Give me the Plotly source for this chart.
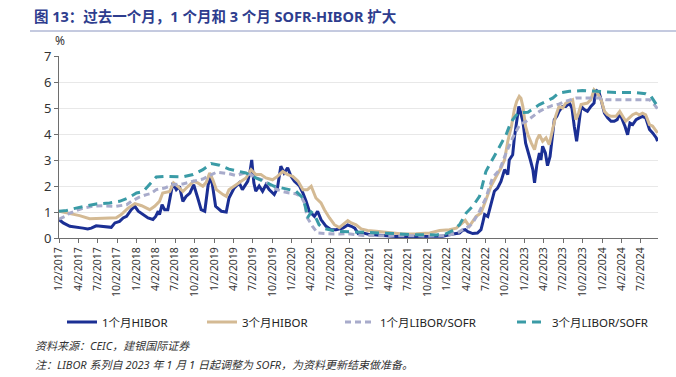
import plotly.graph_objects as go

# ---------------- data ----------------
hibor1m_dates = ["2017-01-02","2017-01-22","2017-02-22","2017-04-02","2017-04-25","2017-05-17","2017-06-03","2017-06-26",
    "2017-07-28","2017-09-05","2017-09-22","2017-10-14","2017-10-31","2017-11-16","2017-12-08","2017-12-25",
    "2018-01-10","2018-02-02","2018-02-25","2018-03-20","2018-04-02","2018-04-14","2018-04-20","2018-05-02",
    "2018-05-14","2018-05-29","2018-06-22","2018-07-08","2018-07-23","2018-08-08","2018-08-23","2018-09-10",
    "2018-09-28","2018-10-17","2018-11-02","2018-11-19","2018-12-05","2018-12-19","2019-01-09","2019-02-05",
    "2019-02-28","2019-03-13","2019-04-06","2019-04-30","2019-05-15","2019-06-09","2019-06-19","2019-06-28",
    "2019-07-08","2019-07-17","2019-08-02","2019-08-18","2019-09-03","2019-09-18","2019-10-12","2019-10-27",
    "2019-11-12","2019-11-27","2019-12-14","2019-12-30","2020-01-15","2020-02-08","2020-02-24","2020-03-10",
    "2020-03-25","2020-04-18","2020-05-03","2020-05-19","2020-06-12","2020-07-05","2020-07-28","2020-08-30",
    "2020-09-22","2020-10-09","2020-10-25","2020-11-10","2020-12-03","2021-01-04","2021-02-19","2021-05-07",
    "2021-07-25","2021-10-13","2021-12-13","2022-01-30","2022-03-02","2022-03-17","2022-03-29","2022-04-10",
    "2022-05-03","2022-05-25","2022-06-11","2022-06-19","2022-06-28","2022-07-13","2022-07-28","2022-08-13",
    "2022-08-28","2022-09-13","2022-09-30","2022-10-15","2022-10-22","2022-11-07","2022-11-15","2022-11-26",
    "2022-12-06","2022-12-13","2022-12-25","2023-01-07","2023-01-18","2023-01-29","2023-02-10","2023-02-18",
    "2023-03-01","2023-03-13","2023-03-20","2023-03-28","2023-04-10","2023-04-20","2023-05-02","2023-05-14",
    "2023-05-22","2023-06-03","2023-06-13","2023-06-30","2023-07-15","2023-08-01","2023-08-13","2023-08-24",
    "2023-09-04","2023-09-13","2023-09-25","2023-10-10","2023-10-25","2023-11-10","2023-11-25","2023-12-03",
    "2023-12-19","2023-12-28","2024-01-13","2024-01-28","2024-02-13","2024-02-28","2024-03-13","2024-03-25",
    "2024-04-07","2024-04-19","2024-05-01","2024-05-12","2024-05-25","2024-06-10","2024-06-25","2024-07-10",
    "2024-07-25","2024-08-12","2024-08-27","2024-09-13","2024-09-19"]
hibor1m_values = [0.71,0.58,0.45,0.42,0.38,0.35,0.38,0.47,
    0.45,0.41,0.58,0.64,0.77,0.83,1.09,1.22,
    1.03,0.90,0.77,0.71,0.83,1.03,0.90,1.28,
    1.09,1.09,2.12,1.86,1.99,1.41,1.60,1.73,
    2.05,1.54,1.09,1.03,2.05,2.37,1.22,1.03,
    1.00,1.54,1.92,2.12,1.86,2.18,2.50,3.00,
    2.12,1.80,2.00,1.80,2.05,1.86,1.67,1.92,
    2.76,2.50,2.70,2.37,2.18,2.00,1.73,1.41,
    1.03,0.83,1.03,0.71,0.45,0.32,0.32,0.38,
    0.50,0.45,0.38,0.17,0.19,0.13,0.10,0.06,
    0.06,0.06,0.07,0.15,0.19,0.30,0.32,0.24,
    0.17,0.19,0.32,0.58,0.90,0.83,1.28,1.80,
    1.92,2.18,2.63,2.44,3.00,3.20,3.85,4.55,
    5.06,4.87,4.49,3.65,3.27,3.01,2.63,2.12,
    2.82,3.27,3.00,3.53,3.27,2.78,3.14,3.97,
    4.55,4.68,4.87,5.06,5.06,5.19,5.00,4.29,
    3.72,4.29,5.06,4.94,4.87,5.06,5.19,5.70,
    5.58,5.32,4.80,4.62,4.49,4.49,4.55,4.80,
    4.55,4.29,3.97,4.42,4.36,4.55,4.62,4.68,
    4.62,4.17,4.04,3.85,3.72]

hibor3m_dates = ["2017-01-02","2017-02-22","2017-04-09","2017-05-26","2017-07-27","2017-09-28","2017-10-22","2017-11-23",
    "2017-12-25","2018-01-26","2018-03-05","2018-03-28","2018-04-20","2018-05-05","2018-06-07","2018-06-25",
    "2018-07-15","2018-08-08","2018-09-02","2018-09-28","2018-10-17","2018-11-10","2018-11-26","2018-12-12",
    "2018-12-27","2019-01-13","2019-02-13","2019-02-28","2019-03-13","2019-04-06","2019-04-30","2019-06-01",
    "2019-06-25","2019-07-17","2019-08-10","2019-09-03","2019-10-04","2019-10-27","2019-11-21","2019-12-14",
    "2020-01-07","2020-02-01","2020-02-24","2020-03-16","2020-04-03","2020-04-25","2020-05-19","2020-06-04",
    "2020-06-28","2020-07-21","2020-08-13","2020-09-22","2020-10-09","2020-10-31","2020-11-24","2020-12-24",
    "2021-02-03","2021-04-07","2021-06-07","2021-08-10","2021-10-13","2021-11-28","2022-01-13","2022-02-15",
    "2022-03-17","2022-03-29","2022-04-17","2022-05-03","2022-05-19","2022-06-11","2022-06-28","2022-07-13",
    "2022-07-28","2022-08-22","2022-09-13","2022-09-30","2022-10-15","2022-11-01","2022-11-15","2022-11-26",
    "2022-12-08","2022-12-16","2022-12-25","2023-01-07","2023-01-18","2023-02-03","2023-02-18","2023-03-01",
    "2023-03-13","2023-03-28","2023-04-13","2023-04-28","2023-05-14","2023-05-28","2023-06-13","2023-06-30",
    "2023-07-15","2023-08-01","2023-08-16","2023-09-01","2023-09-13","2023-09-25","2023-10-25","2023-11-10",
    "2023-11-25","2023-12-11","2023-12-28","2024-01-13","2024-01-28","2024-02-13","2024-03-07","2024-03-25",
    "2024-04-07","2024-04-22","2024-05-09","2024-05-25","2024-06-10","2024-06-25","2024-07-10","2024-07-25",
    "2024-08-12","2024-08-27","2024-09-19"]
hibor3m_values = [1.03,0.94,0.86,0.74,0.75,0.78,0.90,1.15,
    1.32,1.24,1.09,1.22,1.41,1.73,1.79,2.12,
    1.99,1.79,1.99,2.18,2.12,1.99,2.14,2.50,
    2.24,1.86,1.67,1.60,1.86,1.99,2.12,2.31,
    2.63,2.44,2.44,2.31,2.24,2.37,2.56,2.44,
    2.37,2.18,1.86,1.86,1.99,1.54,1.35,1.09,
    0.77,0.51,0.40,0.67,0.58,0.51,0.35,0.29,
    0.26,0.19,0.15,0.16,0.19,0.29,0.32,0.38,
    0.58,0.68,0.45,0.64,0.83,0.96,1.35,1.67,
    1.99,2.37,2.69,3.01,3.72,4.29,4.94,5.26,
    5.45,5.38,5.06,4.29,3.97,3.65,3.40,3.78,
    3.97,3.72,3.85,3.59,4.17,4.68,5.06,5.00,
    5.19,5.26,5.32,4.55,4.80,5.13,5.19,5.32,
    5.70,5.58,5.32,4.87,4.74,4.68,4.68,4.87,
    4.68,4.49,4.62,4.74,4.80,4.74,4.80,4.74,
    4.36,4.30,4.04]

libor1m_dates = ["2017-01-02","2017-01-30","2017-02-22","2017-04-02","2017-04-25","2017-06-11","2017-07-28","2017-09-28",
    "2017-11-16","2017-12-08","2018-01-17","2018-02-18","2018-03-10","2018-04-05","2018-05-14","2018-06-22",
    "2018-08-08","2018-09-25","2018-11-10","2018-12-12","2019-01-13","2019-02-13","2019-03-13","2019-04-16",
    "2019-05-24","2019-06-25","2019-07-17","2019-08-18","2019-09-18","2019-10-20","2019-11-21","2019-12-22",
    "2020-01-22","2020-02-15","2020-03-02","2020-03-10","2020-03-16","2020-04-09","2020-05-03","2020-06-12",
    "2020-08-13","2020-09-15","2020-12-03","2021-02-19","2021-05-07","2021-10-13","2021-12-28","2022-02-15",
    "2022-03-17","2022-04-17","2022-05-03","2022-06-04","2022-07-04","2022-08-04","2022-09-07","2022-10-07",
    "2022-11-07","2022-12-10","2023-01-10","2023-02-10","2023-03-13","2023-04-13","2023-05-14","2023-06-12",
    "2023-07-15","2023-09-01","2023-12-19","2024-01-20","2024-06-25","2024-08-12","2024-09-04","2024-09-19"]
libor1m_values = [0.73,0.83,0.96,1.09,1.15,1.22,1.24,1.22,
    1.28,1.41,1.58,1.67,1.71,1.86,1.92,2.05,
    2.08,2.18,2.27,2.40,2.53,2.50,2.47,2.40,
    2.50,2.44,2.31,2.24,2.05,1.88,1.79,1.73,
    1.70,1.60,1.35,1.03,0.77,0.45,0.19,0.17,
    0.15,0.17,0.10,0.09,0.08,0.08,0.10,0.17,
    0.32,0.45,0.58,1.03,1.54,2.31,2.63,3.27,
    3.85,4.36,4.49,4.68,4.87,5.00,5.10,5.15,
    5.26,5.38,5.38,5.32,5.32,5.32,5.13,4.96]

libor3m_dates = ["2017-01-02","2017-02-07","2017-03-23","2017-05-10","2017-06-26","2017-08-28","2017-10-14","2017-11-23",
    "2018-01-02","2018-02-02","2018-03-05","2018-04-05","2018-05-14","2018-06-22","2018-08-08","2018-09-25",
    "2018-11-10","2018-12-19","2019-01-28","2019-03-13","2019-05-01","2019-06-01","2019-07-02","2019-08-03",
    "2019-09-03","2019-10-12","2019-11-21","2019-12-22","2020-01-22","2020-02-24","2020-03-10","2020-03-16",
    "2020-04-03","2020-04-18","2020-05-10","2020-05-28","2020-07-28","2020-10-01","2021-01-04","2021-03-04",
    "2021-05-07","2021-07-10","2021-11-13","2021-12-28","2022-02-01","2022-03-02","2022-04-02","2022-05-03",
    "2022-06-04","2022-07-04","2022-08-04","2022-09-07","2022-10-07","2022-10-22","2022-11-07","2022-12-02",
    "2023-01-18","2023-03-13","2023-04-13","2023-05-14","2023-06-13","2023-08-01","2023-10-01","2023-12-19",
    "2024-03-07","2024-05-25","2024-07-25","2024-08-19","2024-09-04","2024-09-19"]
libor3m_values = [1.03,1.06,1.15,1.22,1.31,1.35,1.41,1.54,
    1.73,1.79,2.05,2.35,2.37,2.35,2.35,2.44,
    2.63,2.86,2.80,2.65,2.56,2.50,2.37,2.24,
    2.14,1.99,1.93,1.86,1.80,1.54,1.09,0.77,
    1.00,0.90,0.51,0.38,0.26,0.24,0.23,0.19,
    0.17,0.13,0.12,0.16,0.30,0.51,0.96,1.22,
    1.60,2.56,3.01,3.53,3.97,4.29,4.55,4.81,
    4.84,5.13,5.26,5.38,5.58,5.64,5.67,5.64,
    5.60,5.60,5.55,5.45,5.26,5.06]

tick_dates = ["2017-01-02","2017-04-02","2017-07-02","2017-10-02","2018-01-02","2018-04-02","2018-07-02","2018-10-02",
    "2019-01-02","2019-04-02","2019-07-02","2019-10-02","2020-01-02","2020-04-02","2020-07-02","2020-10-02",
    "2021-01-02","2021-04-02","2021-07-02","2021-10-02","2022-01-02","2022-04-02","2022-07-02","2022-10-02",
    "2023-01-02","2023-04-02","2023-07-02","2023-10-02","2024-01-02","2024-04-02","2024-07-02"]
tick_labels = ["1/2/2017","4/2/2017","7/2/2017","10/2/2017","1/2/2018","4/2/2018","7/2/2018","10/2/2018",
    "1/2/2019","4/2/2019","7/2/2019","10/2/2019","1/2/2020","4/2/2020","7/2/2020","10/2/2020",
    "1/2/2021","4/2/2021","7/2/2021","10/2/2021","1/2/2022","4/2/2022","7/2/2022","10/2/2022",
    "1/2/2023","4/2/2023","7/2/2023","10/2/2023","1/2/2024","4/2/2024","7/2/2024"]

series_names = ["1个月HIBOR", "3个月HIBOR", "1个月LIBOR/SOFR", "3个月LIBOR/SOFR"]

# ---------------- figure ----------------
FONT = "Noto Sans, Noto Sans CJK SC, sans-serif"
L, R, T, B = 59, 658, 56, 238
W, H = 676, 377
pw, ph = R - L, B - T

def px_x(x):
    return (x - L) / pw

def px_y(y):
    return (B - y) / ph

fig = go.Figure()
fig.add_trace(go.Scatter(x=hibor1m_dates, y=hibor1m_values, name=series_names[0], mode="lines",
                         line=dict(color="#1B2F94", width=3), legend="legend"))
fig.add_trace(go.Scatter(x=hibor3m_dates, y=hibor3m_values, name=series_names[1], mode="lines",
                         line=dict(color="#D4BA94", width=3), legend="legend2"))
fig.add_trace(go.Scatter(x=libor1m_dates, y=libor1m_values, name=series_names[2], mode="lines",
                         line=dict(color="#A8ABCB", width=3, dash="6px,4px"), legend="legend3"))
fig.add_trace(go.Scatter(x=libor3m_dates, y=libor3m_values, name=series_names[3], mode="lines",
                         line=dict(color="#3A9BA6", width=3, dash="9px,6px"), legend="legend4"))

def leg(x_px):
    return dict(orientation="h", x=px_x(x_px), xanchor="left", y=px_y(322), yanchor="middle",
                font=dict(family=FONT, size=11.5, color="#222222"), itemwidth=30,
                bgcolor="rgba(0,0,0,0)", borderwidth=0)

fig.update_layout(
    width=W, height=H,
    margin=dict(l=L, r=W - R, t=T, b=H - B, pad=0),
    paper_bgcolor="white", plot_bgcolor="white",
    font=dict(family=FONT, size=11, color="#333333"),
    showlegend=True,
    legend=leg(62), legend2=leg(202), legend3=leg(340), legend4=leg(512),
    xaxis=dict(type="date", range=["2017-01-02", "2024-09-21"],
               tickmode="array", tickvals=tick_dates, ticktext=tick_labels, tickangle=-90,
               showgrid=False, showline=True, linecolor="#6E6E6E", linewidth=1,
               ticks="outside", ticklen=4, tickcolor="#6E6E6E",
               tickfont=dict(size=10.5, color="#333333"), zeroline=False),
    yaxis=dict(range=[0, 7], tickmode="array", tickvals=[0, 1, 2, 3, 4, 5, 6, 7],
               showgrid=True, gridcolor="#E8E8E8", gridwidth=1,
               showline=True, linecolor="#6E6E6E", linewidth=1,
               ticks="outside", ticklen=4, tickcolor="#6E6E6E",
               tickfont=dict(size=13, color="#333333"), zeroline=False),
)

fig.add_annotation(text="<b>图 13：过去一个月，1 个月和 3 个月 SOFR-HIBOR 扩大</b>", xref="paper", yref="paper",
                   x=px_x(32), y=px_y(16), xanchor="left", yanchor="middle", showarrow=False,
                   font=dict(family=FONT, size=14.5, color="#2E3D8E"))
fig.add_shape(type="line", xref="paper", yref="paper", x0=px_x(30), x1=px_x(676), y0=px_y(31), y1=px_y(31),
              line=dict(color="#8A95C0", width=1))
fig.add_annotation(text="%", xref="paper", yref="paper", x=px_x(60), y=px_y(40), xanchor="center",
                   yanchor="middle", showarrow=False, font=dict(size=12, color="#333333"))
fig.add_annotation(text="<i>资料来源：CEIC，建银国际证券</i>", xref="paper", yref="paper",
                   x=px_x(33), y=px_y(345), xanchor="left", yanchor="middle", showarrow=False,
                   font=dict(size=11, color="#333333"))
fig.add_annotation(text="<i>注：LIBOR 系列自 2023 年 1 月 1 日起调整为 SOFR，为资料更新结束做准备。</i>", xref="paper",
                   yref="paper", x=px_x(33), y=px_y(364), xanchor="left", yanchor="middle", showarrow=False,
                   font=dict(size=11, color="#333333"))

fig.write_html("out.html", config={"displayModeBar": False},
               post_script="document.body.style.margin='0';document.body.style.overflow='hidden';")
